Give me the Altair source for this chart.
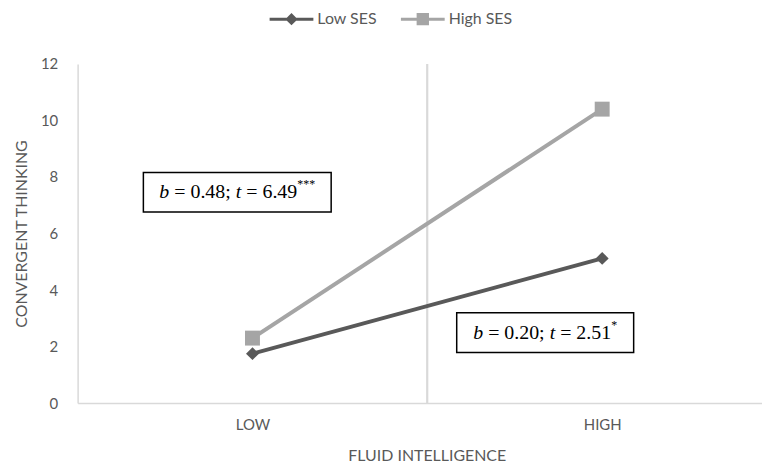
import json
import altair as alt
import pandas as pd

# ---------------- data ----------------
categories = ["LOW", "HIGH"]
series_names = ["Low SES", "High SES"]
low_ses = [1.75, 5.12]
high_ses = [2.30, 10.40]
y_ticks = [0, 2, 4, 6, 8, 10, 12]

# annotation boxes (data units) and their text runs: (text, style) n=normal i=italic s=superscript
ann_boxes = [
    {"x0": 0.188, "x1": 0.725, "y0": 6.76, "y1": 8.16},
    {"x0": 1.084, "x1": 1.590, "y0": 1.79, "y1": 3.20},
]
ann_runs = [
    [("b", "i"), (" = 0.48; ", "n"), ("t", "i"), (" = 6.49", "n"), ("***", "s")],
    [("b", "i"), (" = 0.20; ", "n"), ("t", "i"), (" = 2.51", "n"), ("*", "s")],
]

# ---------------- styles ----------------
series_colors = ["#595959", "#A5A5A5"]
W, H = 688, 341
XMAX = 1.957
PX = W / XMAX
FONT = "Lato"
SERIF = "Liberation Serif"
TXT = 20
SUP = 12
AXIS_GRAY = "#595959"
LINE_GRAY = "#D9D9D9"

# Times metrics (per 1000 em)
adv = {"b": 500, " ": 250, "=": 564, ".": 250, ";": 278, "t": 278, "*": 500}
for d in "0123456789":
    adv[d] = 500


def run_width(s, size):
    return sum(adv.get(c, 500) for c in s) * size / 1000.0


# ---------------- tables ----------------
rows = []
for s, vals in zip(series_names, [low_ses, high_ses]):
    for i, (c, v) in enumerate(zip(categories, vals)):
        rows.append({"series": s, "cat": c, "xpos": i + 0.5, "value": v})
df = pd.DataFrame(rows)

box_df = pd.DataFrame(ann_boxes)

pieces = []
for box, runs in zip(ann_boxes, ann_runs):
    sizes = [SUP if st == "s" else TXT for _, st in runs]
    widths = [run_width(t, sz) for (t, _), sz in zip(runs, sizes)]
    total = sum(widths)
    cx = (box["x0"] + box["x1"]) / 2 * PX
    cy = (box["y0"] + box["y1"]) / 2
    start = cx - total / 2
    cum = 0.0
    for (t, st), w, sz in zip(runs, widths, sizes):
        lead = len(t) - len(t.lstrip(" "))
        shift = lead * adv[" "] * sz / 1000.0
        pieces.append({"x": (start + cum + shift) / PX, "y": cy, "text": t.strip(" "), "style": st})
        cum += w
piece_df = pd.DataFrame(pieces)

xscale = alt.Scale(domain=[0, XMAX], nice=False, zero=False)
yscale = alt.Scale(domain=[0, 12], nice=False, zero=True)
cscale = alt.Scale(domain=series_names, range=series_colors)

label_expr = json.dumps(categories) + "[floor(datum.value)]"

xaxis = alt.Axis(
    values=[i + 0.5 for i in range(len(categories))],
    labelExpr=label_expr,
    title="FLUID INTELLIGENCE",
    grid=False, ticks=False,
    domainColor=LINE_GRAY, domainWidth=1.5,
    labelFont=FONT, labelFontSize=15, labelColor=AXIS_GRAY, labelPadding=15,
    titleFont=FONT, titleFontSize=16, titleColor=AXIS_GRAY, titleFontWeight="normal",
    titlePadding=15, titleX=351,
)
yaxis = alt.Axis(
    values=y_ticks,
    title="CONVERGENT THINKING",
    grid=False, ticks=False,
    domainColor=LINE_GRAY, domainWidth=1.5,
    labelFont=FONT, labelFontSize=15, labelColor=AXIS_GRAY, labelPadding=20,
    titleFont=FONT, titleFontSize=16, titleColor=AXIS_GRAY, titleFontWeight="normal",
    titlePadding=11,
)

bar = "M-2.2,-0.15L2.2,-0.15L2.2,0.15L-2.2,0.15Z"
sym_diamond = bar + "M0,-0.62L0.62,0L0,0.62L-0.62,0Z"
sym_square = bar + "M-0.62,-0.62L0.62,-0.62L0.62,0.62L-0.62,0.62Z"

leg = alt.Legend(
    title=None, orient="none", legendX=205, legendY=-55, direction="horizontal",
    symbolSize=400, labelOffset=16, columnPadding=24, symbolOpacity=1,
    labelFont=FONT, labelFontSize=16, labelColor=AXIS_GRAY, symbolStrokeWidth=0,
)

base = alt.Chart(df)

divider = base.mark_rule(color=LINE_GRAY, strokeWidth=1.5).encode(
    x=alt.X(datum=1, type="quantitative", scale=xscale, axis=xaxis),
    y=alt.Y(datum=0, type="quantitative", scale=yscale, axis=yaxis),
    y2=alt.Y2(datum=12),
)

lines = base.mark_line(strokeWidth=4).encode(
    x=alt.X("xpos:Q", scale=xscale, axis=xaxis),
    y=alt.Y("value:Q", scale=yscale, axis=yaxis),
    color=alt.Color("series:N", scale=cscale, legend=leg),
)

legend_layer = base.mark_point(filled=True, opacity=0, size=400).encode(
    x="xpos:Q", y="value:Q",
    color=alt.Color("series:N", scale=cscale, legend=leg),
    shape=alt.Shape("series:N", scale=alt.Scale(domain=series_names, range=[sym_diamond, sym_square]), legend=leg),
)

pts_low = base.transform_filter(alt.datum.series == series_names[0]).mark_point(
    shape="diamond", filled=True, size=169, opacity=1
).encode(
    x="xpos:Q", y="value:Q",
    color=alt.Color("series:N", scale=cscale),
)
pts_high = base.transform_filter(alt.datum.series == series_names[1]).mark_point(
    shape="square", filled=True, size=225, opacity=1
).encode(
    x="xpos:Q", y="value:Q",
    color=alt.Color("series:N", scale=cscale),
)

boxes = alt.Chart(box_df).mark_rect(fill="white", stroke="black", strokeWidth=1.5).encode(
    x="x0:Q", x2="x1:Q", y="y0:Q", y2="y1:Q",
)

ptxt = alt.Chart(piece_df)
t_norm = ptxt.transform_filter(alt.datum.style == "n").mark_text(
    font=SERIF, fontSize=TXT, align="left", baseline="middle", color="black"
).encode(x="x:Q", y="y:Q", text="text:N")
t_ital = ptxt.transform_filter(alt.datum.style == "i").mark_text(
    font=SERIF, fontSize=TXT, fontStyle="italic", align="left", baseline="middle", color="black"
).encode(x="x:Q", y="y:Q", text="text:N")
t_sup = ptxt.transform_filter(alt.datum.style == "s").mark_text(
    font=SERIF, fontSize=SUP, align="left", baseline="middle", color="black", dy=-8
).encode(x="x:Q", y="y:Q", text="text:N")

chart = alt.layer(
    divider, legend_layer, lines, pts_low, pts_high, boxes, t_norm, t_ital, t_sup
).properties(
    width=W, height=H,
    padding={"left": 5, "top": 0, "right": 0, "bottom": 0},
    background="white",
).configure_view(stroke=None)

chart.save("out.html", embed_options={"renderer": "svg", "actions": False})
